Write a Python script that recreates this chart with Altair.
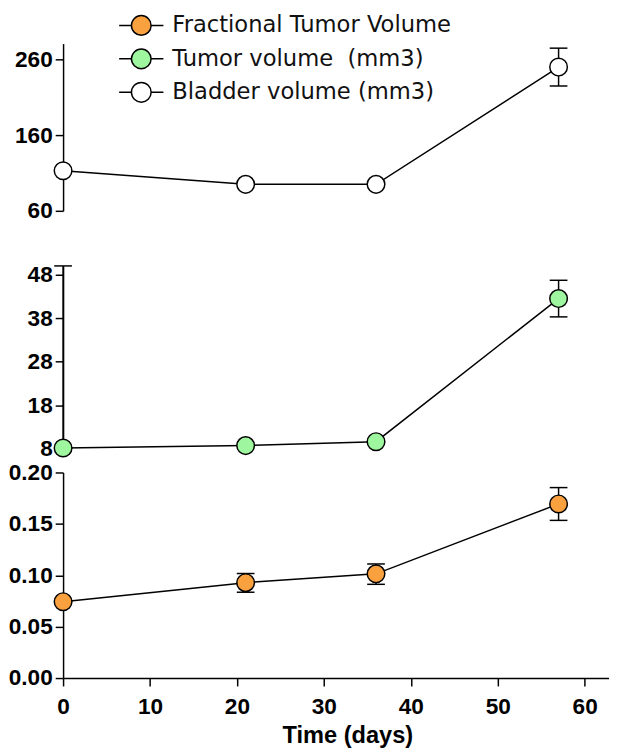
import altair as alt
import pandas as pd

# ---- data ----
days = [0, 21, 36, 57]

fractional = [0.0743, 0.0928, 0.1014, 0.1694]
fractional_lo = [None, 0.0835, 0.0912, 0.1534]
fractional_hi = [None, 0.1017, 0.1110, 0.1853]

tumor = [8.2, 8.75, 9.65, 42.5]
tumor_lo = [8.2, None, None, 38.3]
tumor_hi = [50.0, None, None, 46.7]

bladder = [113, 95, 95, 250]
bladder_lo = [None, None, None, 225]
bladder_hi = [None, None, None, 275]

series_names = ["Fractional Tumor Volume", "Tumor volume\u00a0 (mm3)", "Bladder volume (mm3)"]
series_fills = ["#F9A03F", "#9EF79E", "#FFFFFF"]

top_ticks = [60, 160, 260]
mid_ticks = [8, 18, 28, 38, 48]
bot_ticks = [0.0, 0.05, 0.10, 0.15, 0.20]
x_ticks = [0, 10, 20, 30, 40, 50, 60]

# legend symbol: line - circle - line (unit = half of sqrt(symbolSize))
SYMBOL = ("M-2.25,0L-1,0M1,0L2.25,0"
          "M-1,0A1,1,0,1,0,1,0A1,1,0,1,0,-1,0Z")

X_DOMAIN = [0, 62.8]
PLOT_W = 555


def panel(values, lo, hi, name, ydomain, yrange, height, yticks, yfmt,
          show_x=False, legend=None):
    df = pd.DataFrame({"day": days, "value": values, "lo": lo, "hi": hi,
                       "series": name})
    if show_x:
        xaxis = alt.Axis(values=x_ticks, title="Time (days)", labelFlush=False,
                         labelPadding=10, titleFontSize=24, titleX=289,
                         titleY=59, titleBaseline="middle", titleAlign="center")
    else:
        xaxis = None
    xscale = alt.Scale(domain=X_DOMAIN, nice=False, zero=False)
    yscale = alt.Scale(domain=ydomain, range=yrange, nice=False, zero=False)
    yaxis = alt.Axis(values=yticks, format=yfmt, title=None, labelFlush=False,
                     labelPadding=3)
    x = alt.X("day:Q", scale=xscale, axis=xaxis)
    base = alt.Chart(df)
    errs = base.transform_filter("isValid(datum.lo)")
    bar = errs.mark_rule(color="black", strokeWidth=1.5).encode(
        x=x, y=alt.Y("lo:Q", scale=yscale, axis=yaxis), y2="hi:Q")
    cap_hi = errs.mark_rule(color="black", strokeWidth=1.5, xOffset=-9,
                            x2Offset=9).encode(
        x=x, x2="day:Q", y=alt.Y("hi:Q", scale=yscale, axis=yaxis))
    cap_lo = errs.mark_rule(color="black", strokeWidth=1.5, xOffset=-9,
                            x2Offset=9).encode(
        x=x, x2="day:Q", y=alt.Y("lo:Q", scale=yscale, axis=yaxis))
    line = base.mark_line(color="black", strokeWidth=1.5).encode(
        x=x, y=alt.Y("value:Q", scale=yscale, axis=yaxis), order="day:Q")
    fill_kw = dict(scale=alt.Scale(domain=series_names, range=series_fills))
    if legend is None:
        fill = alt.Fill("series:N", legend=None, **fill_kw)
    else:
        fill = alt.Fill("series:N", legend=legend, **fill_kw)
    pts = base.mark_circle(size=320, stroke="black", strokeWidth=1.5,
                           opacity=1).encode(
        x=x, y=alt.Y("value:Q", scale=yscale, axis=yaxis), fill=fill)
    return alt.layer(bar, cap_hi, cap_lo, line, pts).properties(
        width=PLOT_W, height=height)


legend = alt.Legend(title=None, orient="none", legendX=68, legendY=-30,
                    symbolType=SYMBOL, symbolSize=400,
                    symbolStrokeColor="black", symbolStrokeWidth=1.5,
                    symbolOpacity=1, labelFont="DejaVu Sans",
                    labelFontSize=23, labelFontWeight="normal",
                    labelColor="#111111", labelOffset=20, rowPadding=7,
                    padding=0, labelLimit=400)

top = panel(bladder, bladder_lo, bladder_hi, series_names[2], [60, 281],
            [170, 0], 202, top_ticks, "d", legend=legend)
mid = panel(tumor, tumor_lo, tumor_hi, series_names[1], [8, 50],
            [186, 0], 186, mid_ticks, "d")
bot = panel(fractional, fractional_lo, fractional_hi, series_names[0],
            [0, 0.2], [209, 0], 209, bot_ticks, ".2f", show_x=True)

chart = alt.vconcat(top, mid, bot, spacing=24, bounds="flush").resolve_scale(
    fill="independent").resolve_legend(fill="independent").properties(
    padding={"left": 0, "top": 0, "right": 0, "bottom": 0}
).configure_view(stroke=None).configure_axis(
    labelFont="Liberation Sans", labelFontWeight="bold", labelFontSize=23,
    labelColor="black", titleFont="Liberation Sans", titleFontWeight="bold",
    titleColor="black", domainColor="black", domainWidth=1.5,
    tickColor="black", tickWidth=1.5, tickSize=8, grid=False)

chart.save("out.html", embed_options={"renderer": "svg", "actions": False})
